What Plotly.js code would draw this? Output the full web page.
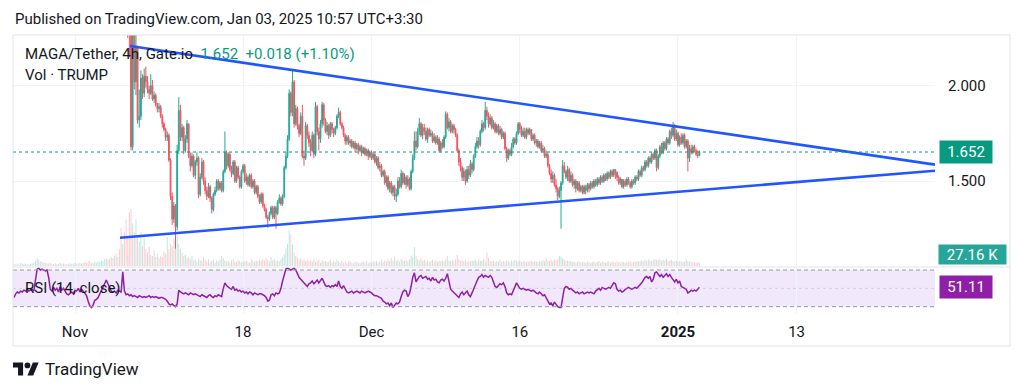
<!DOCTYPE html>
<html><head><meta charset="utf-8">
<script src="https://cdn.plot.ly/plotly-3.0.1.min.js"></script>
<style>html,body{margin:0;padding:0;background:#fff;}#chart{width:1024px;height:390px;}</style>
</head><body><div id="chart"></div>
<script>
// ---- MAGA/Tether 4h candles (Gate.io), first candle 2024-11-06 08:00 ----
const firstOpen = 2.45;
const close = [
2.35,2.30,1.68,2.30,2.02,2.20,1.82,1.84,2.04,1.96,
2.05,2.02,1.98,1.96,2.00,1.93,1.95,1.90,1.88,1.89,
1.84,1.80,1.77,1.73,1.74,1.61,1.42,1.30,1.37,1.26,
1.66,1.87,1.73,1.78,1.66,1.72,1.80,1.63,1.58,1.63,
1.53,1.60,1.62,1.43,1.52,1.60,1.50,1.45,1.42,1.47,
1.41,1.35,1.43,1.45,1.50,1.46,1.49,1.45,1.55,1.65,
1.58,1.64,1.56,1.54,1.60,1.50,1.57,1.52,1.47,1.55,
1.58,1.50,1.52,1.48,1.53,1.47,1.50,1.44,1.47,1.42,
1.39,1.43,1.37,1.35,1.31,1.30,1.33,1.36,1.31,1.36,
1.33,1.39,1.41,1.38,1.42,1.57,1.63,1.72,1.96,1.86,
2.02,1.80,1.88,1.79,1.75,1.84,1.63,1.62,1.79,1.74,
1.70,1.66,1.74,1.64,1.89,1.76,1.72,1.80,1.90,1.82,
1.76,1.79,1.74,1.80,1.77,1.75,1.78,1.84,1.86,1.80,
1.78,1.74,1.71,1.73,1.70,1.71,1.68,1.70,1.67,1.69,
1.66,1.68,1.65,1.67,1.64,1.66,1.63,1.65,1.62,1.64,
1.60,1.62,1.57,1.58,1.53,1.55,1.49,1.52,1.46,1.49,
1.44,1.47,1.42,1.43,1.50,1.47,1.54,1.49,1.52,1.48,
1.51,1.46,1.55,1.62,1.71,1.68,1.76,1.80,1.74,1.78,
1.76,1.72,1.77,1.74,1.75,1.71,1.73,1.70,1.72,1.66,
1.70,1.68,1.73,1.85,1.78,1.81,1.76,1.79,1.77,1.74,
1.66,1.60,1.57,1.52,1.55,1.50,1.56,1.53,1.59,1.56,
1.63,1.68,1.71,1.69,1.76,1.80,1.78,1.87,1.84,1.80,
1.83,1.78,1.80,1.76,1.79,1.75,1.77,1.73,1.75,1.67,
1.62,1.66,1.64,1.68,1.72,1.70,1.75,1.80,1.77,1.74,
1.76,1.73,1.77,1.75,1.77,1.72,1.74,1.70,1.71,1.68,
1.70,1.66,1.67,1.63,1.64,1.58,1.54,1.51,1.53,1.48,
1.46,1.42,1.45,1.49,1.58,1.55,1.52,1.56,1.50,1.53,
1.48,1.50,1.46,1.49,1.45,1.47,1.44,1.47,1.45,1.48,
1.46,1.49,1.47,1.50,1.48,1.51,1.49,1.52,1.50,1.53,
1.51,1.54,1.52,1.55,1.53,1.56,1.545,1.52,1.49,1.51,
1.47,1.50,1.48,1.51,1.49,1.47,1.50,1.49,1.52,1.51,
1.55,1.53,1.57,1.56,1.60,1.58,1.62,1.60,1.64,1.62,
1.66,1.57,1.63,1.68,1.65,1.70,1.67,1.72,1.70,1.76,
1.74,1.79,1.72,1.75,1.69,1.73,1.70,1.74,1.68,1.71,
1.62,1.67,1.65,1.68,1.66,1.64,1.634,1.652];
const high = [
2.60,2.45,2.34,2.40,2.34,2.31,2.21,1.98,2.08,2.06,
2.09,2.10,2.05,2.00,2.06,2.03,1.97,1.96,1.91,1.91,
1.90,1.85,1.81,1.78,1.76,1.75,1.62,1.44,1.39,1.38,
1.69,1.94,1.90,1.80,1.79,1.74,1.82,1.80,1.65,1.65,
1.64,1.61,1.65,1.63,1.54,1.62,1.61,1.52,1.47,1.49,
1.48,1.42,1.44,1.47,1.51,1.51,1.50,1.50,1.56,1.76,
1.66,1.65,1.65,1.58,1.61,1.61,1.58,1.58,1.53,1.56,
1.59,1.59,1.54,1.53,1.54,1.54,1.51,1.51,1.48,1.48,
1.43,1.44,1.44,1.38,1.36,1.32,1.34,1.37,1.37,1.37,
1.37,1.40,1.43,1.42,1.43,1.58,1.65,1.74,1.98,1.97,
2.085,2.03,1.90,1.89,1.80,1.86,1.90,1.66,1.81,1.80,
1.76,1.72,1.76,1.75,1.915,1.90,1.78,1.82,1.915,1.91,
1.83,1.81,1.80,1.81,1.81,1.78,1.79,1.85,1.885,1.87,
1.81,1.79,1.75,1.74,1.74,1.72,1.72,1.71,1.71,1.70,
1.70,1.69,1.69,1.68,1.68,1.67,1.67,1.66,1.66,1.65,
1.65,1.63,1.63,1.60,1.59,1.56,1.56,1.53,1.53,1.50,
1.50,1.48,1.48,1.46,1.52,1.52,1.56,1.55,1.54,1.53,
1.53,1.52,1.56,1.64,1.76,1.76,1.78,1.83,1.81,1.80,
1.80,1.78,1.78,1.78,1.77,1.76,1.75,1.74,1.74,1.73,
1.71,1.72,1.74,1.865,1.86,1.83,1.82,1.80,1.80,1.78,
1.75,1.67,1.62,1.58,1.57,1.56,1.58,1.58,1.61,1.60,
1.64,1.70,1.73,1.73,1.77,1.82,1.81,1.915,1.89,1.86,
1.85,1.84,1.82,1.81,1.80,1.80,1.79,1.78,1.76,1.76,
1.68,1.67,1.67,1.70,1.73,1.73,1.76,1.81,1.81,1.79,
1.78,1.78,1.78,1.78,1.78,1.77,1.75,1.75,1.72,1.72,
1.71,1.71,1.69,1.68,1.66,1.65,1.59,1.56,1.55,1.54,
1.51,1.47,1.47,1.50,1.61,1.60,1.56,1.58,1.57,1.55,
1.54,1.51,1.51,1.50,1.50,1.48,1.48,1.48,1.48,1.49,
1.49,1.50,1.50,1.51,1.51,1.52,1.52,1.53,1.53,1.54,
1.54,1.55,1.55,1.56,1.56,1.56,1.56,1.55,1.53,1.52,
1.51,1.51,1.51,1.52,1.52,1.50,1.51,1.51,1.53,1.53,
1.56,1.56,1.58,1.58,1.61,1.61,1.63,1.63,1.65,1.65,
1.67,1.67,1.64,1.69,1.70,1.71,1.71,1.73,1.73,1.77,
1.78,1.81,1.80,1.77,1.76,1.74,1.75,1.75,1.75,1.72,
1.72,1.69,1.69,1.69,1.69,1.67,1.66,1.66];
const low = [
2.25,2.15,1.66,1.66,1.98,1.95,1.80,1.78,1.82,1.93,
1.94,1.99,1.96,1.93,1.95,1.92,1.91,1.89,1.86,1.86,
1.83,1.78,1.76,1.71,1.71,1.60,1.40,1.27,1.28,1.145,
1.24,1.64,1.71,1.71,1.64,1.65,1.70,1.62,1.55,1.57,
1.52,1.51,1.58,1.41,1.42,1.51,1.48,1.43,1.40,1.41,
1.39,1.33,1.34,1.42,1.44,1.45,1.45,1.44,1.44,1.54,
1.56,1.57,1.55,1.52,1.53,1.49,1.49,1.51,1.46,1.46,
1.54,1.49,1.48,1.47,1.47,1.46,1.46,1.43,1.43,1.41,
1.38,1.38,1.36,1.34,1.30,1.255,1.29,1.32,1.30,1.30,
1.25,1.32,1.38,1.37,1.37,1.41,1.56,1.62,1.71,1.84,
1.84,1.78,1.79,1.77,1.73,1.74,1.62,1.58,1.61,1.72,
1.68,1.63,1.65,1.62,1.63,1.74,1.66,1.70,1.78,1.79,
1.75,1.74,1.72,1.73,1.75,1.73,1.74,1.77,1.83,1.79,
1.77,1.73,1.69,1.69,1.69,1.68,1.67,1.67,1.65,1.66,
1.64,1.65,1.63,1.64,1.63,1.63,1.61,1.62,1.61,1.61,
1.59,1.58,1.56,1.55,1.52,1.52,1.48,1.47,1.45,1.44,
1.43,1.42,1.40,1.39,1.42,1.46,1.46,1.48,1.48,1.46,
1.47,1.45,1.45,1.54,1.61,1.66,1.67,1.74,1.73,1.72,
1.74,1.71,1.70,1.73,1.73,1.70,1.70,1.69,1.69,1.65,
1.65,1.67,1.67,1.72,1.77,1.76,1.75,1.75,1.75,1.73,
1.65,1.58,1.55,1.50,1.50,1.48,1.49,1.51,1.52,1.54,
1.55,1.62,1.67,1.67,1.68,1.75,1.76,1.77,1.82,1.78,
1.79,1.77,1.77,1.75,1.75,1.74,1.74,1.72,1.72,1.66,
1.60,1.61,1.63,1.63,1.67,1.69,1.69,1.74,1.75,1.73,
1.73,1.72,1.72,1.74,1.74,1.71,1.71,1.69,1.68,1.67,
1.67,1.65,1.65,1.62,1.62,1.57,1.53,1.49,1.49,1.47,
1.44,1.40,1.41,1.25,1.48,1.54,1.51,1.50,1.49,1.49,
1.47,1.46,1.44,1.45,1.44,1.44,1.43,1.43,1.43,1.44,
1.44,1.45,1.46,1.46,1.47,1.47,1.48,1.48,1.49,1.49,
1.50,1.50,1.51,1.51,1.52,1.52,1.51,1.50,1.48,1.48,
1.46,1.46,1.47,1.47,1.48,1.46,1.46,1.48,1.48,1.50,
1.50,1.52,1.52,1.55,1.55,1.57,1.57,1.59,1.59,1.61,
1.61,1.55,1.56,1.62,1.64,1.64,1.66,1.66,1.69,1.69,
1.72,1.73,1.71,1.71,1.68,1.68,1.69,1.69,1.67,1.67,
1.55,1.60,1.64,1.64,1.65,1.63,1.62,1.63];

// ---- Volume (thousands) and RSI(14), 4h, first bar 2024-10-25 20:00 ----
const volumeK = [
18,12,20,14,27,18,15,22,16,12,
20,25,30,45,70,55,40,35,30,28,
25,22,30,20,18,24,15,20,26,18,
22,18,15,20,25,17,22,28,20,24,
30,22,26,35,28,40,45,30,25,35,
30,40,35,50,45,60,70,55,65,80,
70,90,110,80,150,340,200,300,420,250,
480,510,380,300,420,260,220,300,180,250,
150,120,170,100,90,140,80,110,70,90,
80,130,110,260,150,200,180,240,220,270,
200,150,120,90,100,70,80,60,90,50,
60,40,70,50,45,80,55,40,60,35,
45,60,30,50,40,55,90,70,50,40,
45,30,50,60,40,35,55,45,30,40,
35,50,40,30,60,45,35,50,40,55,
45,60,50,70,55,40,80,50,60,45,
50,40,60,80,100,160,200,320,280,190,
120,90,80,60,70,50,60,45,55,40,
50,40,60,35,45,55,30,50,40,45,
35,40,55,30,45,35,60,40,30,45,
30,40,25,35,45,30,25,40,35,30,
25,35,40,30,45,25,35,30,40,35,
45,30,40,55,35,50,40,60,45,70,
50,80,45,55,40,60,50,45,55,40,
60,95,80,170,90,60,50,70,45,55,
40,50,35,45,55,40,50,35,45,40,
50,40,60,90,50,45,55,40,60,100,
60,45,50,40,55,35,45,40,50,45,
55,40,60,45,50,65,40,120,70,45,
40,50,35,45,40,55,35,45,40,50,
45,35,50,40,55,45,40,50,35,45,
40,35,45,40,50,35,45,40,35,45,
40,55,45,70,50,45,55,40,60,50,
60,90,85,70,55,45,50,40,45,35,
40,30,35,45,30,40,35,30,40,35,
30,35,40,30,35,45,30,40,35,30,
35,40,30,45,35,30,40,35,30,40,
35,30,40,35,45,30,40,35,45,40,
45,50,40,55,45,60,50,45,55,60,
55,50,60,45,55,50,65,45,50,55,
45,40,50,35,45,40,35,40,60,45,
35,40,30,35,30,35,27.16];
const rsi = [
40,44,46,45,47,46,48,47,49,47,
48,49,47,58,71,72,70,71,70,69,
70,62,49,47,51,48,50,46,52,48,
50,47,44,43,45,46,44,48,47,50,
46,49,47,45,42,36,31,29,32,37,
38,40,44,48,52,56,59,55,50,47,
46,47,45,48,47,46,68,47,43,44,
42,43,41,42,41,40,42,41,40,41,
40,41,42,40,41,40,41,40,39,40,
40,39,38,36,33,32,33,31,30,33,
48,46,45,44,45,44,43,45,44,43,
44,43,42,41,43,42,41,40,42,43,
41,40,42,41,43,42,41,50,56,53,
51,50,49,52,48,49,47,48,46,47,
45,46,44,46,45,43,45,44,43,44,
44,43,42,40,36,37,43,44,42,45,
44,45,50,58,66,71,72,71,70,71,
72,70,65,62,60,58,55,54,52,55,
56,58,55,57,59,56,58,61,57,53,
52,53,51,53,52,54,52,58,52,50,
53,50,46,45,46,47,45,46,47,46,
45,47,46,45,46,47,46,45,43,42,
42,41,40,39,36,35,33,34,31,34,
29,32,34,33,35,41,46,48,47,41,
44,52,62,67,57,60,63,64,61,62,
63,60,61,58,62,59,60,57,56,59,
60,58,61,66,55,49,47,45,43,41,
40,44,46,43,45,47,43,41,45,50,
54,58,62,63,65,62,64,63,62,64,
62,57,52,51,53,55,54,56,52,45,
43,44,43,47,52,56,53,50,49,50,
49,48,49,48,47,48,46,45,44,46,
44,42,43,39,36,33,34,31,35,32,
30,29,29,40,50,52,51,49,50,48,
46,45,46,44,45,46,44,45,46,45,
46,45,44,47,49,50,48,51,50,49,
50,51,50,53,56,55,49,47,48,46,
47,49,50,51,50,49,50,51,50,52,
53,56,59,62,63,61,63,57,60,67,
68,66,63,65,62,64,66,63,65,62,
59,57,60,56,58,52,51,50,49,45,
46,48,47,48,47,49,51.11];

const candleStart = '2024-11-06T08:00:00';
const studyStart = '2024-10-25T20:00:00';
const tickVals = ['2024-11-01','2024-11-18','2024-12-01','2024-12-16','2025-01-01','2025-01-13'];
const tickText = ['Nov','18','Dec','16','<b>2025</b>','13'];
const priceTicks = [1.5, 2.0];
const priceTickText = ['1.500','2.000'];
const trendUpper = {t:['2024-11-06 13:30','2025-01-27 00:00'], p:[2.208,1.586]};
const trendLower = {t:['2024-11-05 13:15','2025-01-27 00:00'], p:[1.2025,1.554]};

// ---- helpers ----
function times(startISO, n){
  const t0 = Date.parse(startISO + 'Z');
  return Array.from({length:n}, (_, k) => new Date(t0 + k*4*3600e3).toISOString().slice(0,19).replace('T',' '));
}
const L = 13, R = 935, T = 35, B = 314, W = 1024, H = 390;
const px = v => (v - L) / (R - L);
const py = v => (B - v) / (B - T);

const ct = times(candleStart, close.length);
const open = close.map((c, i) => i === 0 ? firstOpen : close[i-1]);
const vt = times(studyStart, volumeK.length);
const offset = volumeK.length - close.length;
const UP = '#22ab94', DOWN = '#f7525f';
const volColors = volumeK.map((v, j) => {
  let up;
  if (j >= offset) { const i = j - offset; up = close[i] >= open[i]; }
  else { up = j === 0 ? true : rsi[j] >= rsi[j-1]; }
  return up ? 'rgba(34,171,148,0.3)' : 'rgba(247,82,95,0.3)';
});

const last = close[close.length-1], prev = close[close.length-2];
const chg = last - prev, pct = chg / prev * 100;
const sgn = chg >= 0 ? '+' : '−';
const lastVol = volumeK[volumeK.length-1];
const lastRsi = rsi[rsi.length-1];

const traces = [
  {type:'bar', x: vt, y: volumeK, xaxis:'x', yaxis:'y', marker:{color: volColors, line:{width:0}}, width: 4*3600e3*0.6, hoverinfo:'skip'},
  {type:'candlestick', x: ct, open: open, high: high, low: low, close: close, xaxis:'x', yaxis:'y3',
   increasing:{line:{color:UP, width:1}, fillcolor:UP}, decreasing:{line:{color:DOWN, width:1}, fillcolor:DOWN},
   whiskerwidth:0, hoverinfo:'skip'},
  {type:'scatter', mode:'lines', x: trendUpper.t, y: trendUpper.p, xaxis:'x', yaxis:'y3', line:{color:'#2155ff', width:2.6}, hoverinfo:'skip'},
  {type:'scatter', mode:'lines', x: trendLower.t, y: trendLower.p, xaxis:'x', yaxis:'y3', line:{color:'#2155ff', width:2.6}, hoverinfo:'skip'},
  {type:'scatter', mode:'lines', x: vt, y: rsi, xaxis:'x2', yaxis:'y2', line:{color:'#8e1fa6', width:1.5}, hoverinfo:'skip'}
];

const xRange = ['2024-10-25 17:28', '2025-01-27 00:00'];
const FONT = 'Roboto, "Noto Sans", sans-serif';
const TXT = '#131722';
const GRID = '#f0f3fa';

const logo = (x, y) => [px(13 + 0.722*x), py(362.5 + 0.722*(y-4))];
function pathFrom(pts){ return 'M' + pts.map(p => { const q = logo(p[0], p[1]); return q[0] + ',' + q[1]; }).join(' L') + ' Z'; }

const shapes = [
  {type:'rect', xref:'paper', yref:'y2', x0:0, x1:1, y0:30, y1:70, fillcolor:'rgba(156,80,230,0.13)', line:{width:0}, layer:'below'},
  {type:'line', xref:'paper', yref:'y2', x0:0, x1:1, y0:70, y1:70, line:{color:'#9598a1', width:1, dash:'4px,3px'}},
  {type:'line', xref:'paper', yref:'y2', x0:0, x1:1, y0:30, y1:30, line:{color:'#9598a1', width:1, dash:'4px,3px'}},
  {type:'line', xref:'paper', yref:'y2', x0:0, x1:1, y0:50, y1:50, line:{color:'rgba(149,152,161,0.35)', width:1, dash:'dot'}},
  {type:'line', xref:'paper', yref:'y3', x0:0, x1:1, y0:last, y1:last, line:{color:'#089981', width:1, dash:'dot'}},
  {type:'line', xref:'paper', yref:'paper', x0:px(13), x1:px(1010), y0:py(267), y1:py(267), line:{color:'#e0e3eb', width:1}},
  {type:'rect', xref:'paper', yref:'paper', x0:px(13), x1:px(1010), y0:py(346), y1:py(35), line:{color:'#e0e3eb', width:1}},
  {type:'path', xref:'paper', yref:'paper', path: pathFrom([[0,4],[14,4],[14,22],[7,22],[7,11],[0,11]]), fillcolor:'#131722', line:{width:0}},
  {type:'path', xref:'paper', yref:'paper', path: pathFrom([[20,22],[28,22],[35.5,4],[27.5,4]]), fillcolor:'#131722', line:{width:0}},
  {type:'circle', xref:'paper', yref:'paper', x0: logo(16,4)[0], x1: logo(24,4)[0], y0: logo(0,12)[1], y1: logo(0,4)[1], fillcolor:'#131722', line:{width:0}}
];

const annotations = [
  {xref:'paper', yref:'paper', x:px(13), y:py(19), xanchor:'left', yanchor:'middle', showarrow:false,
   text:'Published on TradingView.com, Jan 03, 2025 10:57 UTC+3:30', font:{family:FONT, size:15, color:TXT}},
  {xref:'paper', yref:'paper', x:px(23), y:py(54), xanchor:'left', yanchor:'middle', showarrow:false,
   text:'MAGA/Tether, 4h, Gate.io&nbsp;&nbsp;<span style="color:#089981">' + last.toFixed(3) + '&nbsp;&nbsp;' + sgn + Math.abs(chg).toFixed(3) + ' (' + sgn + Math.abs(pct).toFixed(2) + '%)</span>',
   font:{family:FONT, size:15, color:TXT}},
  {xref:'paper', yref:'paper', x:px(23), y:py(75), xanchor:'left', yanchor:'middle', showarrow:false,
   text:'Vol · TRUMP', font:{family:FONT, size:15, color:TXT}},
  {xref:'paper', yref:'paper', x:px(23), y:py(288), xanchor:'left', yanchor:'middle', showarrow:false,
   text:'RSI (14, close)', font:{family:FONT, size:15, color:TXT}},
  {xref:'paper', yref:'y3', x:px(966), y:last, xanchor:'center', yanchor:'middle', showarrow:false,
   text:last.toFixed(3), font:{family:FONT, size:15, color:'#ffffff'}, bgcolor:'#089981', width:48, height:18, borderpad:2},
  {xref:'paper', yref:'paper', x:px(972.5), y:py(254), xanchor:'center', yanchor:'middle', showarrow:false,
   text:lastVol.toFixed(2) + ' K', font:{family:FONT, size:15, color:'#ffffff'}, bgcolor:'#26a69a', width:63, height:15, borderpad:2},
  {xref:'paper', yref:'y2', x:px(966), y:lastRsi, xanchor:'center', yanchor:'middle', showarrow:false,
   text:lastRsi.toFixed(2), font:{family:FONT, size:15, color:'#ffffff'}, bgcolor:'#8e1fa6', width:48, height:18, borderpad:2},
  {xref:'paper', yref:'paper', x:px(43), y:py(369), xanchor:'left', yanchor:'middle', showarrow:false,
   text:'TradingView', font:{family:FONT, size:17, color:TXT}}
];

const layout = {
  width: W, height: H,
  margin: {l: L, r: W - R, t: T, b: H - B, pad: 0},
  paper_bgcolor: '#ffffff', plot_bgcolor: '#ffffff',
  font: {family: FONT, size: 15, color: TXT},
  showlegend: false, hovermode: false, bargap: 0.3,
  xaxis: {type:'date', domain:[0,1], anchor:'y', range:xRange, tickvals:tickVals, showticklabels:false,
          showgrid:true, gridcolor:GRID, gridwidth:1, zeroline:false, showline:false, ticks:'', rangeslider:{visible:false}, fixedrange:true},
  xaxis2: {type:'date', domain:[0,1], anchor:'y2', matches:'x', range:xRange, tickvals:tickVals, ticktext:tickText,
          showgrid:true, gridcolor:GRID, gridwidth:1, zeroline:false, showline:false, ticks:'', ticklabelstandoff:7,
          tickfont:{family:FONT, size:15, color:TXT}, rangeslider:{visible:false}},
  yaxis: {domain:[py(266), 1], anchor:'x', range:[0, 2070], visible:false, fixedrange:true},
  yaxis3: {overlaying:'y', anchor:'x', side:'right', range:[1.054, 2.266], tickvals:priceTicks, ticktext:priceTickText,
          showgrid:true, gridcolor:GRID, gridwidth:1, zeroline:false, showline:false, ticks:'', ticklabelstandoff:12,
          tickfont:{family:FONT, size:15, color:TXT}},
  yaxis2: {domain:[0, py(267)], anchor:'x2', range:[22, 73.3], visible:false},
  shapes: shapes,
  annotations: annotations
};

Plotly.newPlot('chart', traces, layout, {displayModeBar:false, staticPlot:true});
</script>
</body></html>
